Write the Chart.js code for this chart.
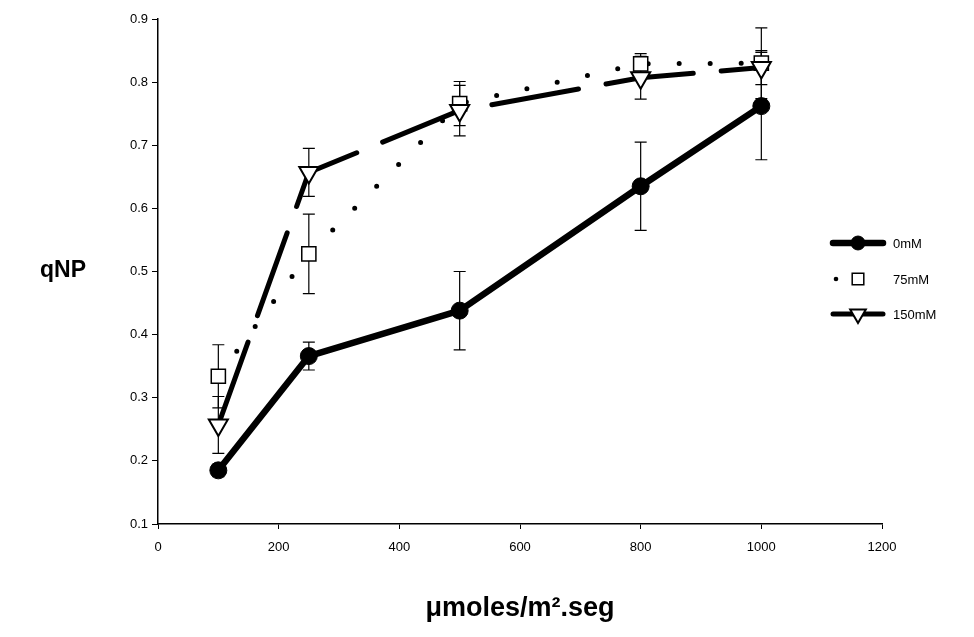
<!DOCTYPE html>
<html>
<head>
<meta charset="utf-8">
<script src="https://cdn.jsdelivr.net/npm/chart.js@4.4.1/dist/chart.umd.min.js"></script>
<style>
  html, body { margin: 0; padding: 0; background: #ffffff; }
  #c { display: block; }
</style>
</head>
<body>
<canvas id="c" width="974" height="637"></canvas>
<script>
// ---- data ----
const lightLevels = [100, 250, 500, 800, 1000];
const seriesNames = ["0mM", "75mM", "150mM"];
const qnp0mM   = [0.185, 0.366, 0.438, 0.635, 0.762];
const err0mM   = [0.010, 0.022, 0.062, 0.070, 0.085];
const qnp75mM  = [0.334, 0.528, 0.766, 0.829, 0.830];
const err75mM  = [0.050, 0.063, 0.035, 0.016, 0.056];
const qnp150mM = [0.257, 0.657, 0.755, 0.807, 0.823];
const err150mM = [0.045, 0.038, 0.040, 0.034, 0.027];
const xTicks = [0, 200, 400, 600, 800, 1000, 1200];
const yTicks = [0.1, 0.2, 0.3, 0.4, 0.5, 0.6, 0.7, 0.8, 0.9];
const xTitle = "\u03BCmoles/m\u00B2.seg";
const yTitle = "qNP";

const FONT = "Arial, 'Liberation Sans', Helvetica, sans-serif";

function pts(ys) { return lightLevels.map((x, i) => ({ x: x, y: ys[i] })); }

const errorSets = [err0mM, err75mM, err150mM];

// error bars drawn under the markers
const errorBarPlugin = {
  id: 'errorBars',
  beforeDatasetsDraw(chart) {
    const ctx = chart.ctx;
    const xs = chart.scales.x, ys = chart.scales.y;
    ctx.save();
    ctx.strokeStyle = '#000';
    ctx.lineWidth = 1.2;
    chart.data.datasets.forEach((ds, di) => {
      const errs = errorSets[di];
      ds.data.forEach((p, i) => {
        const e = errs[i];
        if (!e) return;
        const px = xs.getPixelForValue(p.x);
        const top = ys.getPixelForValue(p.y + e);
        const bot = ys.getPixelForValue(p.y - e);
        ctx.beginPath();
        ctx.moveTo(px, top); ctx.lineTo(px, bot);
        ctx.moveTo(px - 6, top); ctx.lineTo(px + 6, top);
        ctx.moveTo(px - 6, bot); ctx.lineTo(px + 6, bot);
        ctx.stroke();
      });
    });
    ctx.restore();
  }
};

function drawMarkerPath(ctx, style, x, y, r, rot) {
  if (style === 'circle') {
    ctx.arc(x, y, r, 0, Math.PI * 2);
  } else if (style === 'rect') {
    const s = r * Math.SQRT1_2;
    ctx.rect(x - s, y - s, 2 * s, 2 * s);
  } else if (style === 'triangle') {
    const a = (rot || 0) * Math.PI / 180;
    for (let k = 0; k < 3; k++) {
      const t = a - Math.PI / 2 + k * 2 * Math.PI / 3;
      const px = x + Math.cos(t) * r, py = y + Math.sin(t) * r;
      if (k === 0) ctx.moveTo(px, py); else ctx.lineTo(px, py);
    }
    ctx.closePath();
  }
}

// custom legend (line sample + marker) and horizontal y title
const extrasPlugin = {
  id: 'extras',
  afterDraw(chart) {
    const ctx = chart.ctx;
    ctx.save();
    ctx.fillStyle = '#000';
    ctx.font = "bold 23px " + FONT;
    ctx.textAlign = 'center';
    ctx.textBaseline = 'middle';
    ctx.fillText(yTitle, 63, 271);

    const rows = [243, 279, 314];
    chart.data.datasets.forEach((ds, i) => {
      const y = rows[i];
      const x0 = 833, x1 = 883, xm = 858;
      ctx.save();
      ctx.strokeStyle = ds.borderColor;
      ctx.lineWidth = ds.borderWidth;
      ctx.lineCap = ds.borderCapStyle || 'butt';
      if (i === 1) {
        ctx.fillStyle = '#000';
        ctx.beginPath(); ctx.arc(836, y, 2.3, 0, Math.PI * 2); ctx.fill();
      } else {
        ctx.beginPath(); ctx.moveTo(x0, y); ctx.lineTo(x1, y); ctx.stroke();
      }
      ctx.restore();
      ctx.save();
      ctx.fillStyle = ds.pointBackgroundColor;
      ctx.strokeStyle = '#000';
      ctx.lineWidth = ds.pointBorderWidth;
      ctx.beginPath();
      drawMarkerPath(ctx, ds.pointStyle, xm, y, ds.pointRadius * 0.82, ds.pointRotation || 0);
      ctx.fill(); ctx.stroke();
      ctx.restore();
      ctx.fillStyle = '#000';
      ctx.font = "13px " + FONT;
      ctx.textAlign = 'left';
      ctx.textBaseline = 'middle';
      ctx.fillText(ds.label, 893, y + 1);
    });
    ctx.restore();
  }
};

const chart = new Chart(document.getElementById('c'), {
  type: 'line',
  data: {
    datasets: [
      {
        label: seriesNames[0], data: pts(qnp0mM), order: 0,
        borderColor: '#000', borderWidth: 6.5, borderCapStyle: 'round', borderJoinStyle: 'round',
        pointStyle: 'circle', pointRadius: 8.5, pointBackgroundColor: '#000',
        pointBorderColor: '#000', pointBorderWidth: 1, tension: 0, fill: false
      },
      {
        label: seriesNames[1], data: pts(qnp75mM), order: 2,
        borderColor: '#000', borderWidth: 5, borderDash: [0, 31], borderCapStyle: 'round',
        pointStyle: 'rect', pointRadius: 10, pointBackgroundColor: '#fff',
        pointBorderColor: '#000', pointBorderWidth: 1.5, tension: 0, fill: false
      },
      {
        label: seriesNames[2], data: pts(qnp150mM), order: 1,
        borderColor: '#000', borderWidth: 5, borderDash: [88, 28], borderCapStyle: 'round',
        pointStyle: 'triangle', pointRotation: 180, pointRadius: 11, pointBackgroundColor: '#fff',
        pointBorderColor: '#000', pointBorderWidth: 2, tension: 0, fill: false
      }
    ]
  },
  options: {
    responsive: false,
    devicePixelRatio: 1,
    animation: false,
    layout: { padding: { left: 0, right: 92, top: 19, bottom: 0 } },
    plugins: {
      legend: { display: false },
      tooltip: { enabled: false },
      title: { display: false }
    },
    scales: {
      x: {
        type: 'linear', min: 0, max: 1200,
        afterBuildTicks(s) { s.ticks = xTicks.map(v => ({ value: v })); },
        afterFit(s) { s.height = 113; },
        grid: { display: true, drawOnChartArea: false, drawTicks: true, tickLength: 5, color: '#000', tickColor: '#000' },
        border: { display: true, color: '#000', width: 1.5 },
        ticks: { color: '#000', font: { family: FONT, size: 13 }, padding: 11, maxRotation: 0,
          callback: v => String(v) },
        title: {
          display: true, text: xTitle, color: '#000',
          font: { family: FONT, size: 27, weight: 'bold' }, padding: { top: 0, bottom: 12 }
        }
      },
      y: {
        type: 'linear', min: 0.1, max: 0.9,
        afterBuildTicks(s) { s.ticks = yTicks.map(v => ({ value: v })); },
        afterFit(s) { s.width = 158; },
        grid: { display: true, drawOnChartArea: false, drawTicks: true, tickLength: 6, color: '#000', tickColor: '#000' },
        border: { display: true, color: '#000', width: 1.5 },
        ticks: { color: '#000', font: { family: FONT, size: 13 }, padding: 4,
          callback: v => Number(v).toFixed(1) }
      }
    }
  },
  plugins: [errorBarPlugin, extrasPlugin]
});
</script>
</body>
</html>
